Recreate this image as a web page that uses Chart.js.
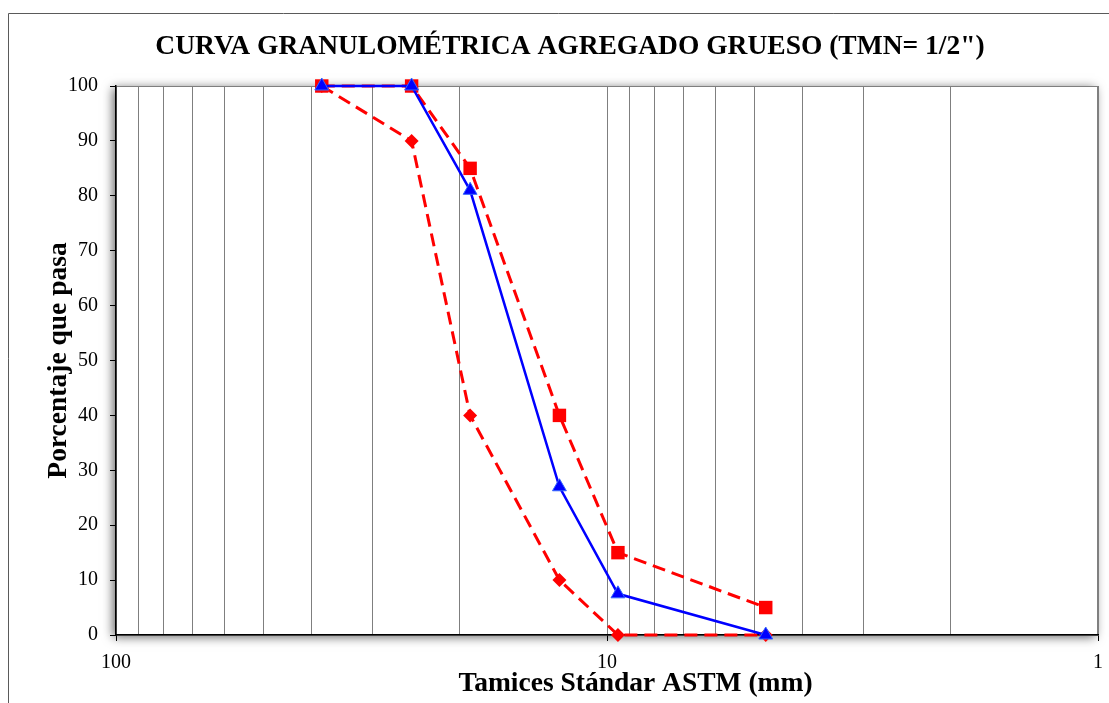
<!DOCTYPE html>
<html>
<head>
<meta charset="utf-8">
<script src="https://cdn.jsdelivr.net/npm/chart.js@4/dist/chart.umd.min.js"></script>
<style>
  html, body { margin: 0; padding: 0; background: #fff; overflow: hidden; }
  #wrap { position: relative; width: 1109px; height: 703px; }
</style>
</head>
<body>
<div id="wrap"><canvas id="granulometria" width="1109" height="703"></canvas></div>
<script>
// tamices ASTM (mm): 1 1/2", 1", 3/4", 1/2", 3/8", N°4
const sieveSizes = [38.1, 25, 19, 12.5, 9.5, 4.75];
const passingPct = [100, 100, 81, 27, 7.5, 0];
const upperLimit = [100, 100, 85, 40, 15, 5];
const lowerLimit = [100, 90, 40, 10, 0, 0];

const xGridTicks = [1, 2, 3, 4, 5, 6, 7, 8, 9, 10, 20, 30, 40, 50, 60, 70, 80, 90, 100];
const xLabelTicks = [1, 10, 100];

const chartTitle = 'CURVA GRANULOMÉTRICA AGREGADO GRUESO (TMN= 1/2")';
const xTitle = "Tamices Stándar ASTM (mm)";
const yTitle = "Porcentaje que pasa";

const serif = '"Liberation Serif", "Times New Roman", serif';

function toPoints(values) {
  return sieveSizes.map((s, i) => ({ x: s, y: values[i] }));
}

// marco exterior, sombra del area de grafico y titulo del eje x
const framePlugin = {
  id: "framePlugin",
  beforeDraw(chart) {
    const ctx = chart.ctx;
    const a = chart.chartArea;
    ctx.save();
    ctx.strokeStyle = "#5a5a5a";
    ctx.lineWidth = 1;
    ctx.beginPath();
    ctx.moveTo(8.5, chart.height);
    ctx.lineTo(8.5, 13.5);
    ctx.lineTo(chart.width, 13.5);
    ctx.stroke();

    ctx.shadowColor = "rgba(0,0,0,0.6)";
    ctx.shadowBlur = 10;
    ctx.shadowOffsetX = -3;
    ctx.shadowOffsetY = 2;
    ctx.fillStyle = "#fff";
    ctx.fillRect(a.left, a.top, a.right - a.left, a.bottom - a.top);
    ctx.restore();

    ctx.save();
    ctx.strokeStyle = "#7f7f7f";
    ctx.lineWidth = 1;
    ctx.strokeRect(a.left + 0.5, a.top + 0.5, a.right - a.left - 1, a.bottom - a.top);
    ctx.restore();
  },
  afterDraw(chart) {
    const ctx = chart.ctx;
    const a = chart.chartArea;
    ctx.save();
    ctx.font = "bold 27.5px " + serif;
    ctx.fillStyle = "#000";
    ctx.textAlign = "center";
    ctx.textBaseline = "middle";
    ctx.fillText(xTitle, a.left + (a.right - a.left) * 0.529, a.bottom + 49);
    ctx.restore();
  }
};

const data = {
  datasets: [
    {
      label: "Muestra",
      data: toPoints(passingPct),
      borderColor: "#0000ff",
      borderWidth: 2.5,
      pointStyle: "triangle",
      pointRadius: 8,
      pointBackgroundColor: "#0000ff",
      pointBorderColor: "#3366ff",
      pointBorderWidth: 1,
      clip: false,
    },
    {
      label: "Limite superior",
      data: toPoints(upperLimit),
      borderColor: "#ff0000",
      borderWidth: 3,
      borderDash: [13, 7],
      pointStyle: "rect",
      pointRadius: 9.5,
      pointBackgroundColor: "#ff0000",
      pointBorderColor: "#ff0000",
      pointBorderWidth: 0,
      clip: false,
    },
    {
      label: "Limite inferior",
      data: toPoints(lowerLimit),
      borderColor: "#ff0000",
      borderWidth: 3,
      borderDash: [13, 7],
      pointStyle: "rectRot",
      pointRadius: 7,
      pointBackgroundColor: "#ff0000",
      pointBorderColor: "#ff0000",
      pointBorderWidth: 0,
      clip: false,
    },
  ],
};

var ctx = document.getElementById("granulometria");
var myChart = new Chart(ctx, {
  type: "line",
  data: data,
  plugins: [framePlugin],
  options: {
    responsive: false,
    animation: false,
    layout: { padding: { left: 42, right: 11, top: 0, bottom: 0 } },
    plugins: {
      legend: { display: false },
      tooltip: { enabled: false },
      title: {
        display: true,
        text: chartTitle,
        color: "#000",
        font: { family: serif, size: 27.5, weight: "bold", lineHeight: 1.2 },
        padding: { top: 30.5, bottom: 22.5 },
      },
    },
    scales: {
      x: {
        type: "logarithmic",
        reverse: true,
        min: 1,
        max: 100,
        afterBuildTicks: (scale) => {
          scale.ticks = xGridTicks.map((v) => ({ value: v }));
        },
        afterFit: (scale) => {
          scale.height = 68;
        },
        ticks: {
          autoSkip: false,
          maxRotation: 0,
          padding: 10,
          color: "#000",
          font: { family: serif, size: 20 },
          callback: (value) => (xLabelTicks.includes(value) ? String(value) : ""),
        },
        grid: {
          color: "#7f7f7f",
          lineWidth: 1,
          tickLength: 6,
          tickColor: (c) => (c.tick && xLabelTicks.includes(c.tick.value) ? "#000" : "rgba(0,0,0,0)"),
        },
        border: { color: "#000", width: 1.5 },
      },
      y: {
        min: 0,
        max: 100,
        afterFit: (scale) => {
          scale.width = 74;
        },
        ticks: {
          stepSize: 10,
          padding: 12,
          color: "#000",
          font: { family: serif, size: 20 },
        },
        grid: {
          drawOnChartArea: false,
          tickLength: 6,
          tickColor: "#000",
        },
        border: { color: "#000", width: 1.5 },
        title: {
          display: true,
          text: yTitle,
          color: "#000",
          font: { family: serif, size: 27.5, weight: "bold", lineHeight: 1.2 },
          padding: { top: 0, bottom: 0 },
        },
      },
    },
  },
});
</script>
</body>
</html>
